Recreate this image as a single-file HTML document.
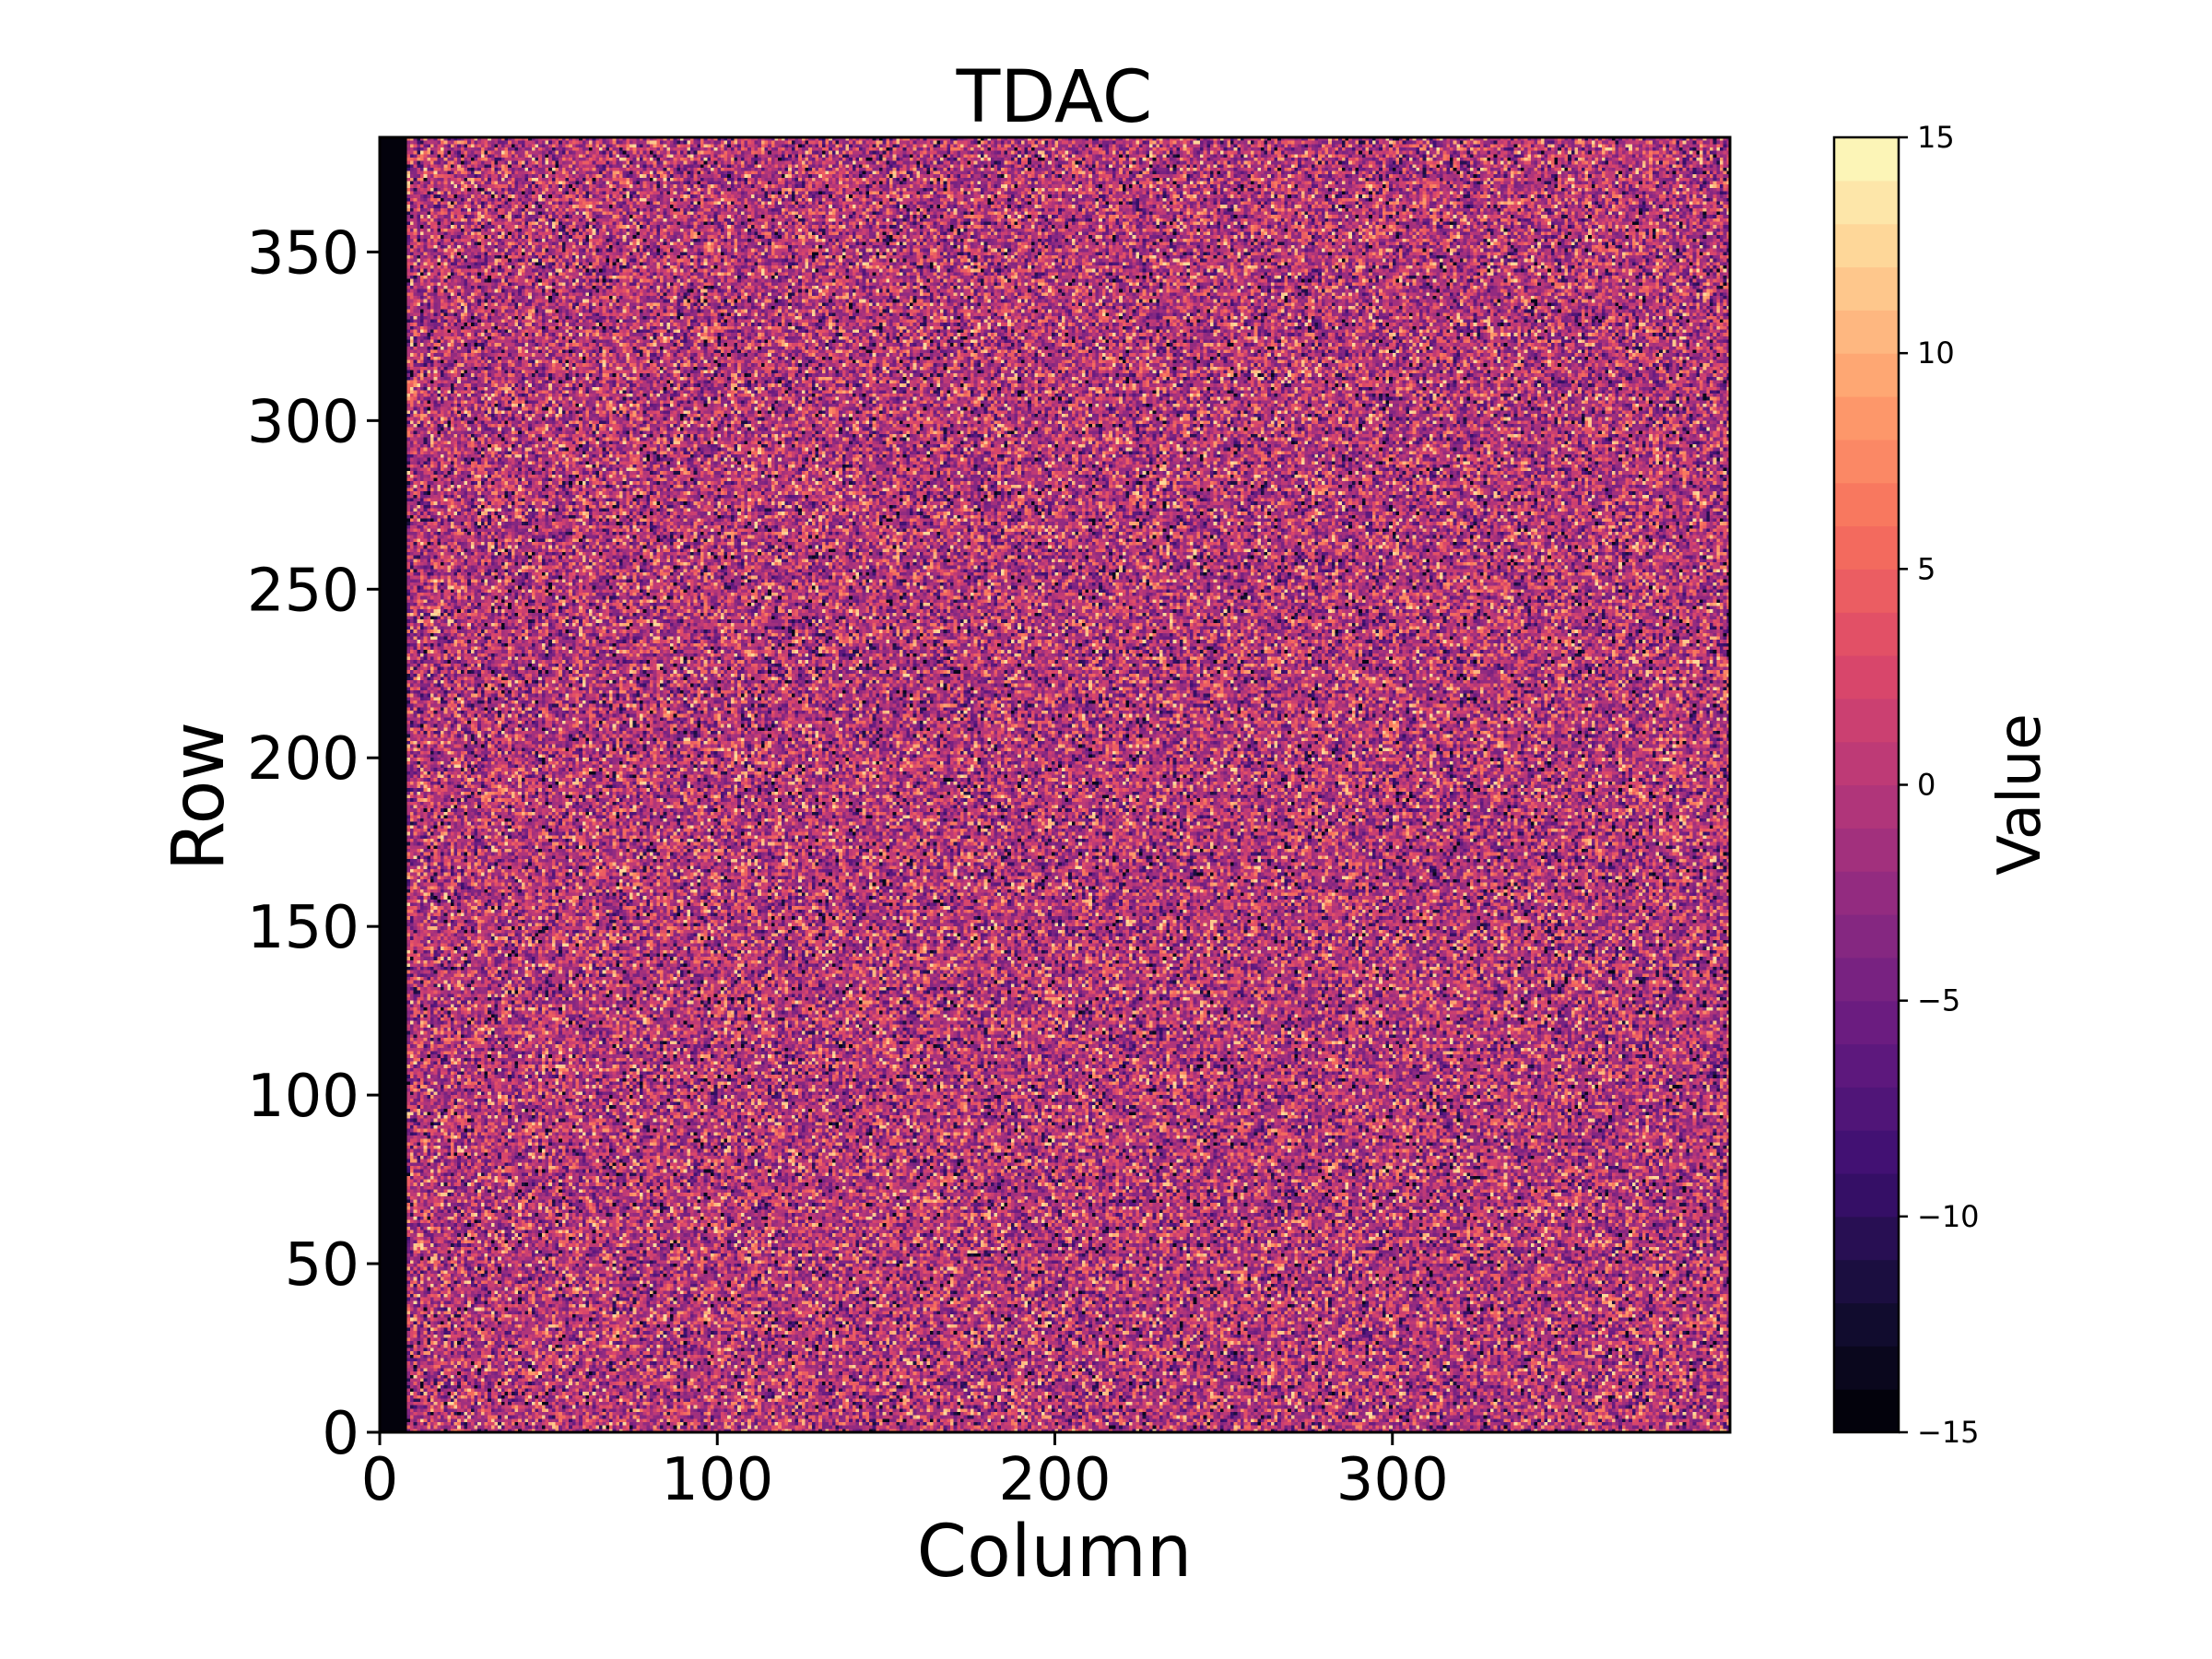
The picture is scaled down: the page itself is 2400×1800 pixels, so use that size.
<!DOCTYPE html>
<html><head><meta charset="utf-8"><style>
html,body{margin:0;padding:0;background:#fff;width:2400px;height:1800px;overflow:hidden}
svg text{font-family:"DejaVu Sans","Liberation Sans",sans-serif;fill:#000}
#heat{position:absolute;left:412px;top:149px;width:1465px;height:1405px;image-rendering:pixelated}
</style></head><body>
<canvas id="heat" width="400" height="384"></canvas>
<svg id="chart" width="2400" height="1800" style="position:absolute;left:0;top:0"></svg>
<script>
// ---- data ----
const nCols = 400;
const nRows = 384;
const disabledCols = [0,1,2,3,4,5,6,7];
const disabledValue = -15;
const tdacValues = [-12,-10,-9,-8,-7,-7,-6,-6,-5,-5,-5,-5,-4,-4,-4,-4,-3,-3,-3,-3,-3,-2,-2,-2,-2,-2,-1,-1,-1,-1,-1,0,0,0,0,0,1,1,1,1,2,2,2,2,3,3,3,4,4,4,5,5,6,6,7,8,9,10,12,-11,11,-14];
const xTicks = [0,100,200,300];
const yTicks = [0,50,100,150,200,250,300,350];
const cbarTicks = [-15,-10,-5,0,5,10,15];
const cbarLevels = [];
for (let v=-15; v<15; v++) cbarLevels.push(v);
const vmin = -15, vmax = 15;

// ---- layout ----
const PL=412, PR=1877, PT=149, PB=1554;
const CL=1990, CR=2060;
const xs = c => PL + (c/nCols)*(PR-PL);
const ys = r => PB - (r/nRows)*(PB-PT);
const cs = v => PB - ((v-vmin)/(vmax-vmin))*(PB-PT);

const magma=[[0,0,4],[20,14,54],[59,15,112],[100,26,128],[140,41,129],[183,55,121],[222,73,104],[247,112,92],[254,159,109],[254,207,146],[252,253,191]];
function cmap(v){
  let t=Math.max(0,Math.min(1,(v-vmin)/(vmax-vmin)))*10;
  const i=Math.min(9,Math.floor(t)), f=t-i;
  const a=magma[i], b=magma[i+1];
  return [0,1,2].map(k=>Math.round(a[k]+(b[k]-a[k])*f));
}
function hash(r,c){let h=(r*73856093)^(c*19349663);h=(h^(h>>>13))*1274126177;h=h^(h>>>16);return Math.abs(h);}

// heatmap
const ctx=document.getElementById('heat').getContext('2d');
const img=ctx.createImageData(nCols,nRows);
for(let r=0;r<nRows;r++)for(let c=0;c<nCols;c++){
  let v = disabledCols.includes(c) ? disabledValue : tdacValues[hash(r,c)%tdacValues.length];
  const col=cmap(Math.floor(v)+0.5);
  const p=((nRows-1-r)*nCols+c)*4;
  img.data[p]=col[0];img.data[p+1]=col[1];img.data[p+2]=col[2];img.data[p+3]=255;
}
ctx.putImageData(img,0,0);

const svg=document.getElementById('chart');
const NS='http://www.w3.org/2000/svg';
function mk(tag,attrs,parent){const e=document.createElementNS(NS,tag);for(const k in attrs)e.setAttribute(k,attrs[k]);(parent||svg).appendChild(e);return e;}

// frame
const frame=mk('rect',{x:PL,y:PT,width:PR-PL,height:PB-PT,fill:'none',stroke:'#000','stroke-width':3});



xTicks.forEach(t=>{
  const l=mk('line',{x1:xs(t),x2:xs(t),y1:PB,y2:PB+14,stroke:'#000','stroke-width':3});
  
  
  const tx=mk('text',{x:xs(t),y:1627,'font-size':64,'text-anchor':'middle'});
  tx.textContent=t;
  
  
});
yTicks.forEach(t=>{
  const l=mk('line',{x1:PL-14,x2:PL,y1:ys(t),y2:ys(t),stroke:'#000','stroke-width':3});
  
  
  const tx=mk('text',{x:PL-22,y:ys(t)+23,'font-size':64,'text-anchor':'end'});
  tx.textContent=t;
  
  
});

// colorbar
cbarLevels.forEach(v=>{
  const c=cmap(v+0.5);
  const r=mk('rect',{x:CL,y:cs(v+1),width:CR-CL,height:cs(v)-cs(v+1)+0.6,fill:`rgb(${c[0]},${c[1]},${c[2]})`});
  
  
});
const cf=mk('rect',{x:CL,y:PT,width:CR-CL,height:PB-PT,fill:'none',stroke:'#000','stroke-width':2.5});


cbarTicks.forEach(t=>{
  const l=mk('line',{x1:CR,x2:CR+10,y1:cs(t),y2:cs(t),stroke:'#000','stroke-width':2.5});
  
  
  const tx=mk('text',{x:CR+20,y:cs(t)+11,'font-size':32});
  tx.textContent=t<0?'\u2212'+Math.abs(t):t;
  
  
});

// titles
const title=mk('text',{x:1144,y:132,'font-size':78,'text-anchor':'middle'});
title.textContent='TDAC';


const xl=mk('text',{x:1144,y:1710,'font-size':78,'text-anchor':'middle'});
xl.textContent='Column';


const yl=mk('text',{x:0,y:0,'font-size':78,'text-anchor':'middle',transform:'translate(242,864) rotate(-90)'});
yl.textContent='Row';


const vl=mk('text',{x:0,y:0,'font-size':64,'text-anchor':'middle',transform:'translate(2213,862) rotate(-90)'});
vl.textContent='Value';


</script>
</body></html>
